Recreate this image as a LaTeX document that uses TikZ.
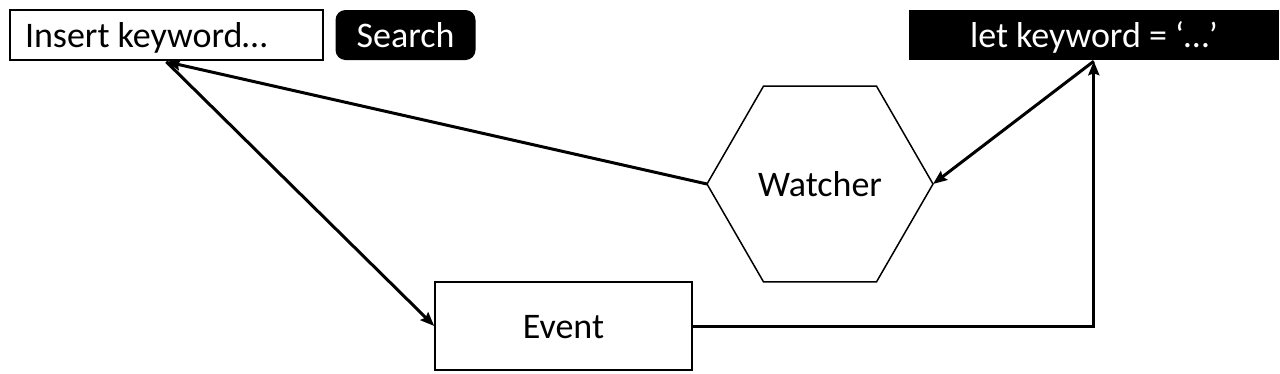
\documentclass[tikz,border=0pt]{standalone}
\usepackage{fontspec}
\setmainfont{Carlito}
\usetikzlibrary{shapes.geometric,arrows.meta,calc}
\begin{document}
\begin{tikzpicture}[x=1pt,y=-1pt,
  every node/.style={font=\fontsize{36}{40}\selectfont,text height=33pt,text depth=8pt},
  box/.style={draw=black,line width=1.5pt,inner sep=0pt},
  darkbox/.style={fill=black,text=white,inner sep=0pt},
  conn/.style={line width=3pt,-{Stealth[length=14pt,width=11pt,inset=2pt]}}]
\useasboundingbox (0,0) rectangle (1280,373);
\node[box,minimum height=50pt,inner xsep=15pt] (ins) at (166.5,35) {\makebox[283pt][l]{Insert keyword…}};
\node[darkbox,rounded corners=10pt,minimum width=140pt,minimum height=50pt] (search) at (405.5,35) {Search};
\node[darkbox,minimum width=370pt,minimum height=50pt] (let) at (1094,35) {let keyword = ‘…’};
\node[box,regular polygon,regular polygon sides=6,minimum size=226pt,outer sep=0pt] (w) at (820,184) {Watcher};
\node[box,minimum width=257pt,minimum height=88pt] (ev) at (563.5,326) {Event};
\coordinate (insp) at ($(ins.south west)+(157,1)$);
\coordinate (letp) at ($(let.south west)+(185,1)$);
\draw[conn] (w.west) -- (insp);
\draw[conn] (insp) -- (ev.west);
\draw[conn] (ev.east) -| (letp);
\draw[conn] (letp) -- (w.east);
\end{tikzpicture}
\end{document}
